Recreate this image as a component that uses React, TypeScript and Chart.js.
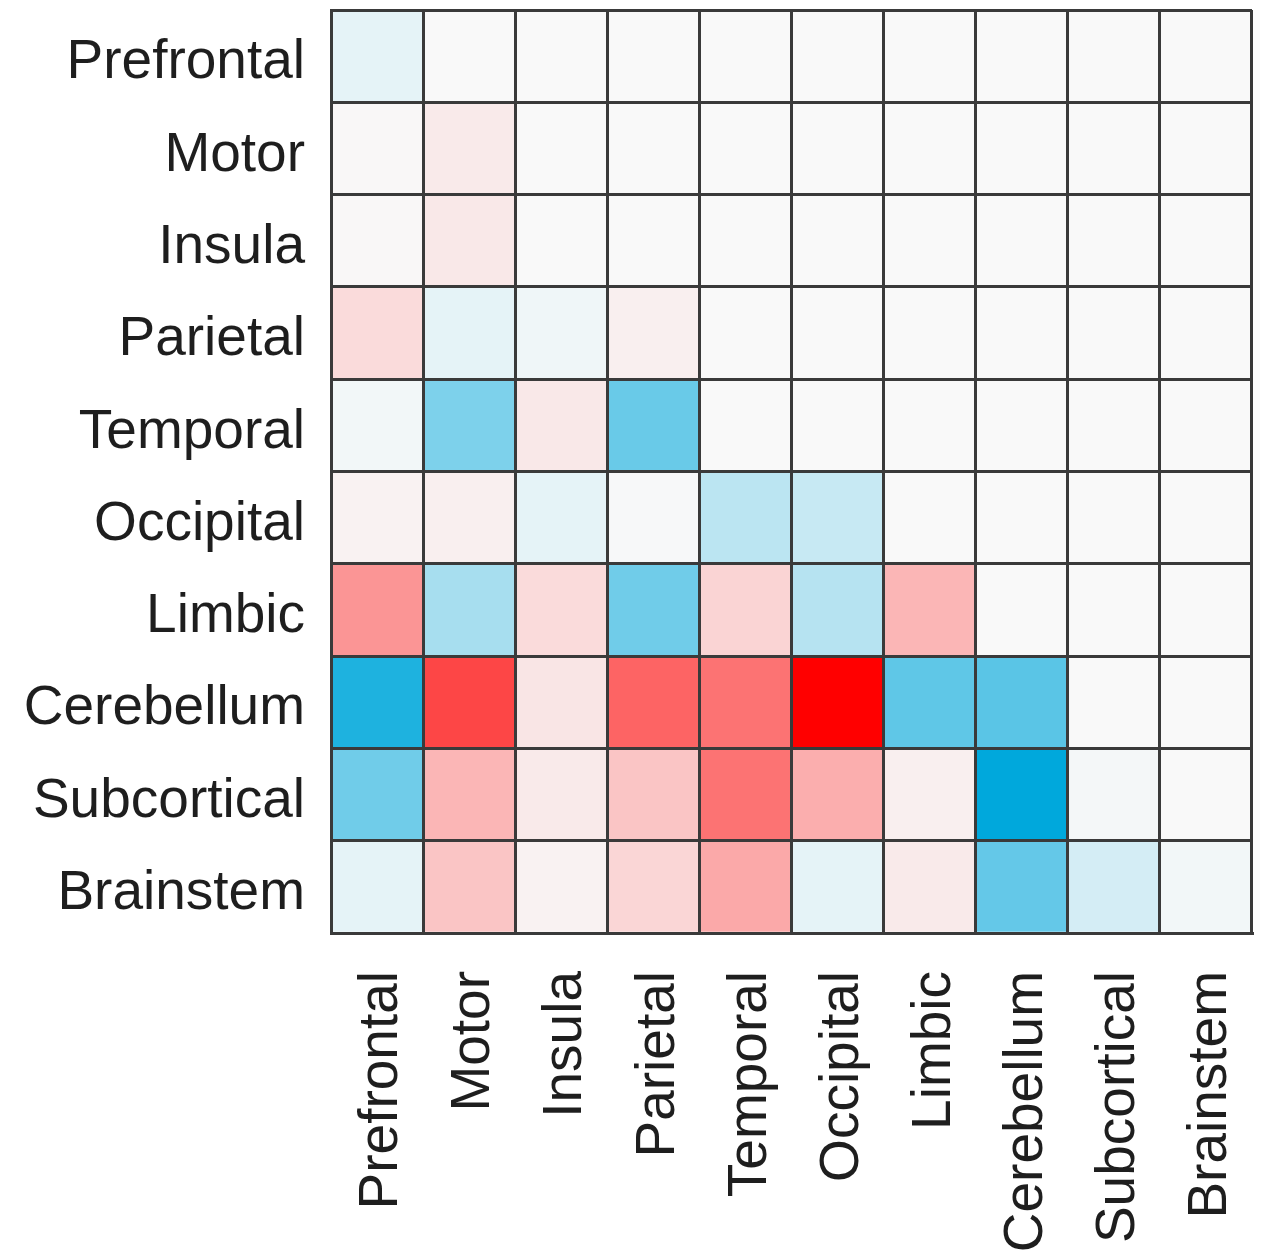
import React, { useEffect, useRef } from "react";
import { Chart, registerables } from "chart.js";

Chart.register(...registerables);

const regions = [
  "Prefrontal",
  "Motor",
  "Insula",
  "Parietal",
  "Temporal",
  "Occipital",
  "Limbic",
  "Cerebellum",
  "Subcortical",
  "Brainstem",
];

// values in [-1, 1]: positive = red, negative = blue (row = y label, column = x label)
const prefrontalRow = [-0.08, 0, 0, 0, 0, 0, 0, 0, 0, 0];
const motorRow = [0.01, 0.06, 0, 0, 0, 0, 0, 0, 0, 0];
const insulaRow = [0.01, 0.07, 0, 0, 0, 0, 0, 0, 0, 0];
const parietalRow = [0.12, -0.08, -0.04, 0.04, 0, 0, 0, 0, 0, 0];
const temporalRow = [-0.03, -0.5, 0.07, -0.58, 0, 0, 0, 0, 0, 0];
const occipitalRow = [0.03, 0.04, -0.08, -0.01, -0.25, -0.2, 0, 0, 0, 0];
const limbicRow = [0.4, -0.33, 0.12, -0.55, 0.15, -0.27, 0.27, 0, 0, 0];
const cerebellumRow = [-0.88, 0.72, 0.08, 0.6, 0.54, 1.0, -0.62, -0.64, 0, 0];
const subcorticalRow = [-0.55, 0.27, 0.06, 0.21, 0.54, 0.3, 0.04, -1.0, -0.02, 0];
const brainstemRow = [-0.08, 0.21, 0.03, 0.14, 0.32, -0.08, 0.06, -0.6, -0.15, -0.03];

const matrix = [
  prefrontalRow,
  motorRow,
  insulaRow,
  parietalRow,
  temporalRow,
  occipitalRow,
  limbicRow,
  cerebellumRow,
  subcorticalRow,
  brainstemRow,
];

const ZERO = [249, 249, 249];
const RED = [255, 0, 0];
const BLUE = [0, 168, 220];

function colorFor(v: number): string {
  const t = Math.min(1, Math.abs(v));
  const target = v >= 0 ? RED : BLUE;
  const c = ZERO.map((z, k) => Math.round(z + (target[k] - z) * t));
  return `rgb(${c[0]},${c[1]},${c[2]})`;
}

function noPad(s: any) {
  s.paddingLeft = 0;
  s.paddingRight = 0;
  s.paddingTop = 0;
  s.paddingBottom = 0;
}

export default function App() {
  const ref = useRef<HTMLCanvasElement | null>(null);

  useEffect(() => {
    if (!ref.current) return;
    const n = regions.length;
    const font = { family: "'Liberation Sans', Arial, Helvetica, sans-serif", size: 55 };
    const lineColor = "#3a3a3a";
    const chart = new Chart(ref.current, {
      type: "bar",
      data: {
        labels: regions,
        datasets: matrix.map((row, i) => ({
          label: regions[i],
          data: row.map(() => [n - 1 - i, n - i]),
          backgroundColor: row.map(colorFor),
          borderWidth: 0,
          barPercentage: 1,
          categoryPercentage: 1,
          grouped: false,
        })) as any,
      },
      options: {
        animation: false,
        responsive: false,
        devicePixelRatio: 1,
        layout: { padding: { top: 10, right: 10, left: 0, bottom: 0 } },
        plugins: { legend: { display: false }, tooltip: { enabled: false } },
        scales: {
          x: {
            type: "category",
            labels: regions,
            offset: true,
            z: 1,
            grid: { offset: true, color: lineColor, lineWidth: 3, drawTicks: false, z: 1 },
            border: { display: true, color: lineColor, width: 3, z: 1 },
            ticks: {
              autoSkip: false,
              minRotation: 90,
              maxRotation: 90,
              padding: 38,
              labelOffset: 5,
              color: "#1e1e1e",
              font,
            },
            afterFit: (s: any) => {
              s.height = 1253 - 933;
              noPad(s);
            },
          },
          y: {
            type: "linear",
            min: 0,
            max: n,
            z: 1,
            position: "left",
            ticks: { display: false, stepSize: 1 },
            grid: { color: lineColor, lineWidth: 3, drawTicks: false, z: 1 },
            border: { display: true, color: lineColor, width: 3, z: 1 },
            afterFit: (s: any) => {
              s.width = 0;
              noPad(s);
            },
          },
          yLabels: {
            type: "category",
            labels: regions,
            position: "left",
            offset: true,
            grid: { display: false, drawTicks: false },
            border: { display: false },
            ticks: { padding: 26, labelOffset: 7, color: "#1e1e1e", font, autoSkip: false },
            afterFit: (s: any) => {
              s.width = 331;
              noPad(s);
            },
          },
        },
      } as any,
    });
    return () => chart.destroy();
  }, []);

  return (
    <div style={{ position: "absolute", left: 0, top: 0, width: 1262, height: 1253, background: "#fff" }}>
      <canvas ref={ref} width={1262} height={1253} style={{ display: "block" }} />
    </div>
  );
}
